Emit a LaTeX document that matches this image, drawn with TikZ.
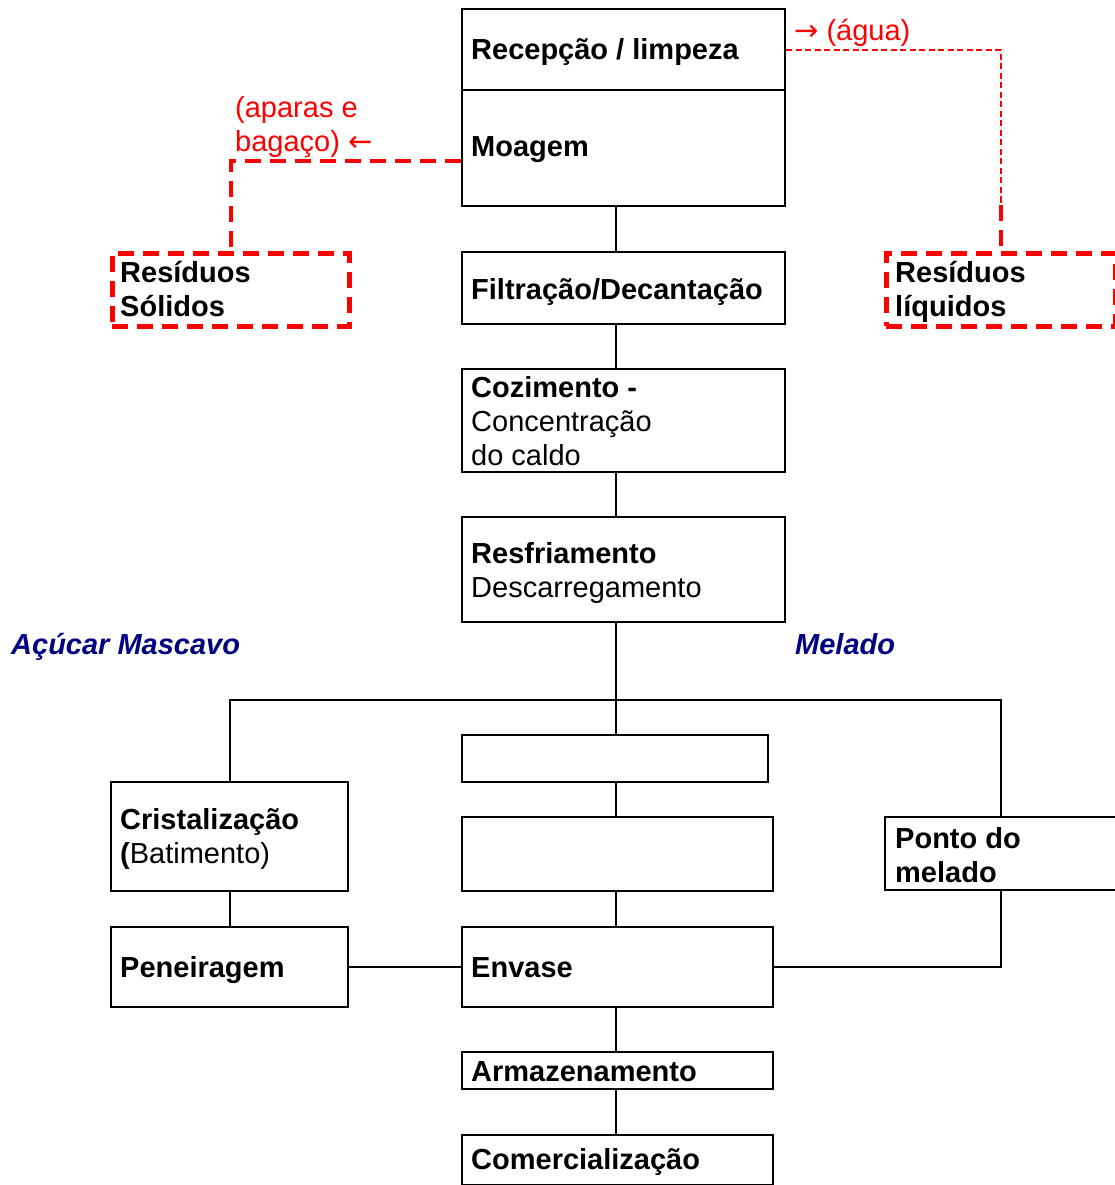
\documentclass[tikz,border=0pt]{standalone}
\usepackage{fontspec}
\setmainfont{Liberation Sans}
\newfontfamily\arrowfont{DejaVu Sans}
\definecolor{navyblue}{HTML}{000080}
\definecolor{pured}{HTML}{FF0000}
\begin{document}
\begin{tikzpicture}[x=1pt,y=-1pt,
  box/.style={draw, line width=2pt, inner sep=0pt, anchor=north west},
  redbox/.style={draw=pured, line width=4.5pt, dash pattern=on 16pt off 9pt, inner sep=0pt, anchor=north west},
  conn/.style={line width=2pt},
  reddash/.style={draw=pured, line width=4.5pt, dash pattern=on 16pt off 9pt},
  redthin/.style={draw=pured, line width=2pt, dash pattern=on 6pt off 3.5pt},
  txt/.style={anchor=base west, inner sep=0pt, font=\fontsize{29}{34}\selectfont\bfseries},
  ntxt/.style={anchor=base west, inner sep=0pt, font=\fontsize{29}{34}\selectfont},
  redtxt/.style={anchor=base west, inner sep=0pt, text=pured, font=\fontsize{29}{34}\selectfont},
  bluetxt/.style={anchor=base west, inner sep=0pt, text=navyblue, font=\fontsize{29}{34}\selectfont\bfseries\itshape}
]
\useasboundingbox (0,0) rectangle (1115,1185);
\clip (0,0) rectangle (1115,1185);
\coordinate (spine) at (616,0);
\coordinate (rx) at (1001,0);
\coordinate (branch) at (616,700);

% main column
\node[box, minimum width=323pt, minimum height=81pt] (rec) at (461,8) {};
\node[box, minimum width=323pt, minimum height=116pt] (moa) at (461,89) {};
\node[box, minimum width=323pt, minimum height=72pt] (fil) at (461,251) {};
\node[box, minimum width=323pt, minimum height=103pt] (coz) at (461,368) {};
\node[box, minimum width=323pt, minimum height=105pt] (resf) at (461,516) {};
\node[box, minimum width=306pt, minimum height=47pt] (emp1) at (461,734) {};
\node[box, minimum width=311pt, minimum height=74pt] (emp2) at (461,816) {};
\node[box, minimum width=311pt, minimum height=80pt] (env) at (461,926) {};
\node[box, minimum width=311pt, minimum height=37pt] (arm) at (461,1051) {};
\node[box, minimum width=311pt, minimum height=50pt] (com) at (461,1134) {};
% side columns
\node[box, minimum width=237pt, minimum height=109pt] (cri) at (110,781) {};
\node[box, minimum width=237pt, minimum height=80pt] (pen) at (110,926) {};
\node[box, minimum width=250pt, minimum height=73pt] (pon) at (884,816) {};
% residue boxes
\node[redbox, minimum width=237pt, minimum height=73pt] (sol) at (110,251) {};
\node[redbox, minimum width=229pt, minimum height=73pt] (liq) at (884,251) {};

% texts
\node[txt] (t-rec) at (471,60) {Recepção / limpeza};
\node[txt] (t-moa) at (471,157) {Moagem};
\node[txt] (t-fil) at (471,299) {Filtração/Decantação};
\node[txt] (t-coz1) at (471,397) {Cozimento -};
\node[ntxt] (t-coz2) at (471,431) {Concentração};
\node[ntxt] (t-coz3) at (471,465) {do caldo};
\node[txt] (t-resf1) at (471,563) {Resfriamento};
\node[ntxt] (t-resf2) at (471,597) {Descarregamento};
\node[txt] (t-env) at (471,977) {Envase};
\node[txt] (t-arm) at (471,1081) {Armazenamento};
\node[txt] (t-com) at (471,1169) {Comercialização};
\node[txt] (t-cri1) at (120,829) {Cristalização};
\node[ntxt] (t-cri2) at (120,863) {\textbf{(}Batimento)};
\node[txt] (t-pen) at (120,977) {Peneiragem};
\node[txt] (t-pon1) at (895,848) {Ponto do};
\node[txt] (t-pon2) at (895,882) {melado};
\node[txt] (t-sol1) at (120,282) {Resíduos};
\node[txt] (t-sol2) at (120,316) {Sólidos};
\node[txt] (t-liq1) at (895,282) {Resíduos};
\node[txt] (t-liq2) at (895,316) {líquidos};
\node[redtxt] (t-apa1) at (235,118) {(aparas e};
\node[redtxt] (t-apa2) at (235,152) {bagaço) {\arrowfont ←}};
\node[redtxt] (t-agua) at (794,41) {{\arrowfont →} (água)};
\node[bluetxt] (t-acu) at (11,654) {Açúcar Mascavo};
\node[bluetxt] (t-mel) at (795,654) {Melado};

% connectors main column
\draw[conn] (moa.south -| spine) -- (fil.north -| spine);
\draw[conn] (fil.south -| spine) -- (coz.north -| spine);
\draw[conn] (coz.south -| spine) -- (resf.north -| spine);
\draw[conn] (resf.south -| spine) -- (emp1.north -| spine);
\draw[conn] (emp1.south -| spine) -- (emp2.north -| spine);
\draw[conn] (emp2.south -| spine) -- (env.north -| spine);
\draw[conn] (env.south -| spine) -- (arm.north -| spine);
\draw[conn] (arm.south -| spine) -- (com.north -| spine);
% branch
\draw[conn] (cri.north) -- (cri.north |- branch) -- (branch -| rx) -- (pon.north -| rx);
\draw[conn] (cri.south) -- (pen.north);
\draw[conn] (pen.east) -- (env.west);
\draw[conn] (pon.south -| rx) |- (env.east);

% red connectors
\draw[reddash] ([yshift=-13pt]moa.west) -| (sol.north);
\coordinate (liqtop) at (1001,205);
\draw[redthin] ([yshift=-1pt]rec.east) -| (liqtop);
\draw[reddash] (liqtop) -- (liq.north -| rx);
\end{tikzpicture}
\end{document}
